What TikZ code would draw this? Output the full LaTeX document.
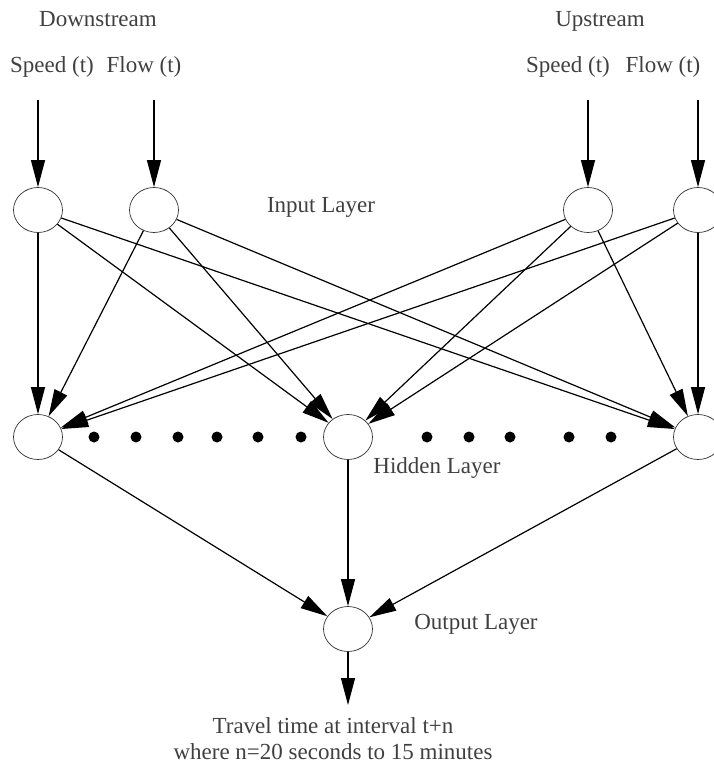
\documentclass[tikz,border=0pt]{standalone}
\usepackage{fontspec}
\setmainfont{Liberation Serif}
\usetikzlibrary{shapes.geometric,arrows.meta}
\tikzset{
  neuron/.style={draw=black!80, ellipse, minimum width=49pt, minimum height=45pt, inner sep=0pt, line width=0.7pt},
  link/.style={line width=1.2pt, -{Triangle[length=27pt,width=14pt]}},
  txt/.style={text=black!75, font=\fontsize{23}{27}\selectfont, inner sep=0pt, anchor=base}
}
\begin{document}
\begin{tikzpicture}[x=1pt,y=-1pt]
	\useasboundingbox (0,0) rectangle (714,765);
	
	% Inndata
	\node[txt] (down) at (98,27) {Downstream};
	\node[txt] (up) at (600,27) {Upstream};
	\node[txt] (speedd) at (52,73) {Speed (t)};
	\node[txt] (flowd) at (144,73) {Flow (t)};
	\node[txt] (speedu) at (568,73) {Speed (t)};
	\node[txt] (flowu) at (663,73) {Flow (t)};
	
	% Inputlag
	\node[neuron] (i1) at (38,210) {};
	\node[neuron] (i2) at (154,210) {};
	\node[neuron] (i3) at (588,210) {};
	\node[neuron] (i4) at (698,210) {};
	\node[txt] (inlayer) at (321,212) {Input Layer};
	
	% Skjult lag
	\node[neuron] (h1) at (38,437) {};
	\node[neuron] (h2) at (348,437) {};
	\node[neuron] (h3) at (698,437) {};
	\node[txt] (hidlayer) at (437,473) {Hidden Layer};
	\foreach \x in {94,136,178,217,258,301,427,469,510,569,611}
	\fill (\x,437) circle (5.5);
	
	% Outputlag
	\node[neuron] (o) at (348,629) {};
	\node[txt] (outlayer) at (476,629) {Output Layer};
	\node[txt] (res1) at (333,733) {Travel time at interval t+n};
	\node[txt] (res2) at (333,759) {where n=20 seconds to 15 minutes};
	
	% Piler inn
	\foreach \n/\x in {i1/38,i2/154,i3/588,i4/698}
	{
		\coordinate (s\n) at (\x,100);
		\draw[link] (s\n) -- (\n);
	}
	
	% Alle koblinger
	\foreach \i in {i1,i2,i3,i4}
	\foreach \h in {h1,h2,h3}
	\draw[link] (\i) -- (\h);
	\foreach \h in {h1,h2,h3}
	\draw[link] (\h) -- (o);
	
	% Pil ut
	\coordinate (end) at (348,705);
	\draw[link] (o) -- (end);
\end{tikzpicture}
\end{document}
